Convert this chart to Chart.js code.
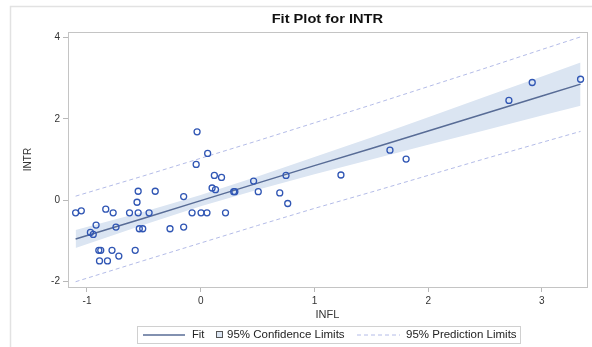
<!DOCTYPE html>
<html>
<head>
<meta charset="utf-8">
<script src="https://cdn.jsdelivr.net/npm/chart.js@4.4.0/dist/chart.umd.min.js"></script>
<style>
  html, body { margin: 0; padding: 0; background: #fff; }
  #wrap { width: 592px; height: 347px; }
</style>
</head>
<body>
<div id="wrap"><canvas id="myChart" width="592" height="347"></canvas></div>
<script>
// observed points (INFL, INTR)
var inflObs = [-1.10, -1.05, -0.97, -0.945, -0.92, -0.896, -0.879, -0.89, -0.835, -0.82,
               -0.78, -0.77, -0.745, -0.72, -0.626, -0.576, -0.56, -0.55, -0.55, -0.54,
               -0.51, -0.454, -0.40, -0.27, -0.15, -0.15, -0.076, -0.04, -0.032, 0.003,
               0.055, 0.061, 0.10, 0.12, 0.13, 0.183, 0.218, 0.29, 0.30, 0.465,
               0.506, 0.695, 0.75, 0.765, 1.233, 1.664, 1.806, 2.71, 2.915, 3.34];
var intrObs = [-0.31, -0.26, -0.79, -0.84, -0.61, -1.23, -1.23, -1.49, -0.22, -1.49,
               -1.23, -0.31, -0.66, -1.37, -0.31, -1.23, -0.05, 0.22, -0.31, -0.70,
               -0.70, -0.31, 0.22, -0.70, 0.09, -0.66, -0.31, 0.88, 1.68, -0.31,
               -0.31, 1.15, 0.30, 0.61, 0.26, 0.56, -0.31, 0.21, 0.21, 0.47,
               0.21, 0.18, 0.61, -0.08, 0.62, 1.23, 1.01, 2.45, 2.89, 2.97];

// fit line and limits read at these INFL values
var fitX    = [-1.1, -0.5, 0, 0.5, 1, 1.5, 2, 2.5, 3, 3.34];
var fitY    = [-0.95, -0.44, -0.01, 0.42, 0.85, 1.27, 1.70, 2.13, 2.56, 2.85];
var ciUpper = [-0.73, -0.28, 0.13, 0.58, 1.06, 1.54, 2.04, 2.54, 3.04, 3.38];
var ciLower = [-1.17, -0.60, -0.15, 0.26, 0.64, 1.00, 1.36, 1.72, 2.08, 2.32];
var piUpper = [0.10, 0.60, 1.03, 1.46, 1.90, 2.34, 2.79, 3.24, 3.70, 4.01];
var piLower = [-2.00, -1.48, -1.05, -0.62, -0.20, 0.20, 0.61, 1.02, 1.42, 1.69];

var xTicks = [-1, 0, 1, 2, 3];
var yTicks = [-2, 0, 2, 4];

var titulo = 'Fit Plot for INTR';
var legendas = ['Fit', '95% Confidence Limits', '95% Prediction Limits'];

function pts(xs, ys) {
    return xs.map(function(x, i) { return {x: x, y: ys[i]}; });
}

var corFit = 'rgb(88, 108, 150)';
var corBanda = 'rgb(219, 229, 242)';
var corPred = 'rgb(180, 188, 232)';
var corPonto = 'rgb(48, 86, 180)';
var fonte = "'Liberation Sans', Arial, sans-serif";

// text in the original is a bit wider than tall, so stretch it a little
function textoLargo(ctx, txt, x, y, escala, align) {
    ctx.save();
    ctx.translate(x, y);
    ctx.scale(escala, 1);
    ctx.textAlign = align;
    ctx.fillText(txt, 0, 0);
    ctx.restore();
}

var molduraPlugin = {
    id: 'moldura',
    beforeDraw: function(chart) {
        let ctx = chart.ctx;
        ctx.save();
        ctx.fillStyle = '#fff';
        ctx.fillRect(0, 0, chart.width, chart.height);
        ctx.strokeStyle = '#e2e2e2';
        ctx.lineWidth = 1.5;
        ctx.strokeRect(10.5, 6.5, 800, 600);
        ctx.restore();
    },
    afterDraw: function(chart) {
        let ctx = chart.ctx;
        let a = chart.chartArea;
        ctx.save();
        ctx.strokeStyle = '#c4c4c4';
        ctx.lineWidth = 1;
        ctx.strokeRect(Math.round(a.left) + 0.5, Math.round(a.top) + 0.5,
                       Math.round(a.right - a.left), Math.round(a.bottom - a.top));

        // title, centred on the plot area
        ctx.fillStyle = '#111';
        ctx.textBaseline = 'middle';
        ctx.font = 'bold 12px ' + fonte;
        textoLargo(ctx, titulo, (a.left + a.right) / 2, 20, 1.22, 'center');

        // legend
        let ly = 335;
        ctx.strokeStyle = '#d0d0d0';
        ctx.lineWidth = 1;
        ctx.strokeRect(137.5, 326.5, 383, 17);
        ctx.strokeStyle = corFit;
        ctx.lineWidth = 1.5;
        ctx.beginPath();
        ctx.moveTo(143, ly); ctx.lineTo(185, ly);
        ctx.stroke();
        ctx.fillStyle = '#222';
        ctx.font = '10px ' + fonte;
        textoLargo(ctx, legendas[0], 192, ly, 1.12, 'left');
        ctx.fillStyle = corBanda;
        ctx.fillRect(216, ly - 3, 6, 6);
        ctx.strokeStyle = '#555';
        ctx.lineWidth = 1;
        ctx.strokeRect(216.5, ly - 3.5, 6, 6);
        ctx.fillStyle = '#222';
        textoLargo(ctx, legendas[1], 227, ly, 1.15, 'left');
        ctx.strokeStyle = corPred;
        ctx.setLineDash([4, 3]);
        ctx.beginPath();
        ctx.moveTo(357, ly); ctx.lineTo(400, ly);
        ctx.stroke();
        ctx.setLineDash([]);
        textoLargo(ctx, legendas[2], 406, ly, 1.15, 'left');
        ctx.restore();
    }
};

var config = {
    type: 'scatter',
    data: {
        datasets: [
            {
                label: 'INTR',
                data: pts(inflObs, intrObs),
                pointStyle: 'circle',
                pointRadius: 3,
                pointBorderWidth: 1.3,
                borderColor: corPonto,
                backgroundColor: 'rgba(0,0,0,0)',
                showLine: false
            },
            {
                label: legendas[0],
                data: pts(fitX, fitY),
                showLine: true,
                borderColor: corFit,
                borderWidth: 1.5,
                pointRadius: 0,
                fill: false
            },
            {
                label: 'PI upper',
                data: pts(fitX, piUpper),
                showLine: true,
                borderColor: corPred,
                borderWidth: 1,
                borderDash: [4, 3],
                pointRadius: 0,
                fill: false
            },
            {
                label: 'PI lower',
                data: pts(fitX, piLower),
                showLine: true,
                borderColor: corPred,
                borderWidth: 1,
                borderDash: [4, 3],
                pointRadius: 0,
                fill: false
            },
            {
                label: 'CI lower',
                data: pts(fitX, ciLower),
                showLine: true,
                borderWidth: 0,
                borderColor: 'rgba(0,0,0,0)',
                pointRadius: 0,
                fill: false
            },
            {
                label: 'CI upper',
                data: pts(fitX, ciUpper),
                showLine: true,
                borderWidth: 0,
                borderColor: 'rgba(0,0,0,0)',
                backgroundColor: corBanda,
                pointRadius: 0,
                fill: '-1'
            }
        ]
    },
    options: {
        responsive: false,
        animation: false,
        layout: { padding: { left: 0, right: 1, top: 32, bottom: 0 } },
        plugins: {
            legend: { display: false },
            tooltip: { enabled: false },
            title: { display: false }
        },
        scales: {
            x: {
                type: 'linear',
                min: -1.167,
                max: 3.394,
                afterBuildTicks: function(scale) {
                    scale.ticks = xTicks.map(function(v) { return {value: v}; });
                },
                afterFit: function(scale) { scale.height = 60; },
                ticks: {
                    color: '#333',
                    font: { family: fonte, size: 10 },
                    padding: 3,
                    maxRotation: 0,
                    callback: function(v) { return String(v); }
                },
                grid: {
                    drawOnChartArea: false,
                    drawTicks: true,
                    tickLength: 5,
                    color: '#b8b8b8'
                },
                border: { display: false },
                title: {
                    display: true,
                    text: 'INFL',
                    color: '#333',
                    font: { family: fonte, size: 11 },
                    padding: { top: 0, bottom: 25 }
                }
            },
            y: {
                type: 'linear',
                min: -2.13,
                max: 4.13,
                afterBuildTicks: function(scale) {
                    scale.ticks = yTicks.map(function(v) { return {value: v}; });
                },
                afterFit: function(scale) { scale.width = 68; },
                ticks: {
                    color: '#333',
                    font: { family: fonte, size: 10 },
                    padding: 3,
                    callback: function(v) { return String(v); }
                },
                grid: {
                    drawOnChartArea: false,
                    drawTicks: true,
                    tickLength: 5,
                    color: '#b8b8b8'
                },
                border: { display: false },
                title: {
                    display: true,
                    text: 'INTR',
                    color: '#333',
                    font: { family: fonte, size: 10 },
                    padding: { top: 22, bottom: 0 }
                }
            }
        }
    },
    plugins: [molduraPlugin]
};

var grafico = new Chart(document.getElementById('myChart'), config);
</script>
</body>
</html>
